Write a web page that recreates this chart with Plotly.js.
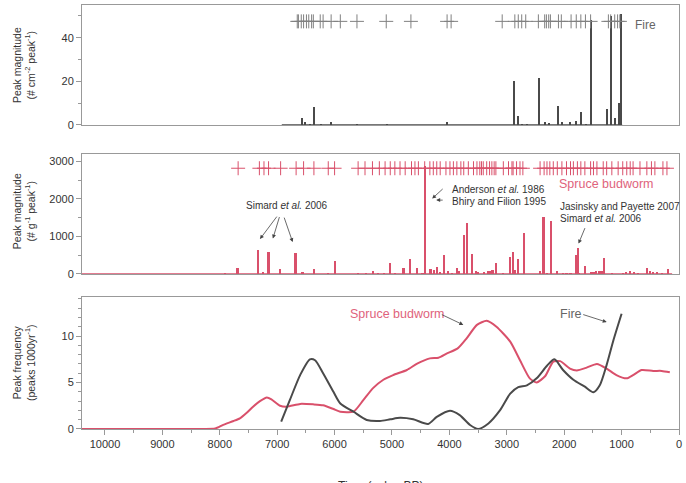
<!DOCTYPE html>
<html>
<head>
<meta charset="utf-8">
<script src="https://cdn.plot.ly/plotly-3.0.1.min.js"></script>
<style>html,body{margin:0;padding:0;background:#fff;}#chart{width:686px;height:483px;}</style>
</head>
<body>
<div id="chart"></div>
<script>
// ---- Fire (top panel) ----
const fireRecordSpan = [6920, 990];
const fireBarYears = [6570, 6520, 6430, 6360, 6240, 6060, 5610, 5090, 4040, 2880, 2810, 2740, 2650, 2440, 2330, 2270, 2110, 2040, 1900, 1790, 1710, 1620, 1530, 1250, 1190, 1120, 1050, 1010];
const fireBarMagnitude = [3.4, 1.5, 0.5, 8.2, 0.4, 1.2, 0.3, 0.3, 1.4, 20.1, 4.1, 0.6, 0.5, 21.5, 1.5, 0.8, 8.7, 1.5, 1.5, 2, 6, 0.5, 48, 7.5, 50, 3, 10, 51];
const fireEventYears = [6650, 6630, 6580, 6540, 6490, 6450, 6400, 6370, 6250, 6200, 6060, 5900, 5610, 5100, 4670, 4040, 3970, 3080, 2860, 2800, 2740, 2670, 2450, 2340, 2310, 2270, 2240, 2100, 2050, 1880, 1790, 1710, 1630, 1540, 1230, 1190, 1120, 1070, 1030];
const fireEventLevel = 47.5;

// ---- Spruce budworm (middle panel) ----
const budwormRecordSpan = [10400, 120];
const budwormBarYears = [7910, 7690, 7330, 7240, 7150, 6950, 6680, 6560, 6360, 6110, 5990, 5590, 5450, 5330, 5240, 5140, 5030, 4950, 4800, 4680, 4570, 4470, 4420, 4330, 4270, 4220, 4160, 4090, 4020, 3950, 3870, 3830, 3750, 3700, 3600, 3540, 3500, 3390, 3320, 3280, 3250, 3190, 3060, 2950, 2890, 2860, 2800, 2700, 2420, 2360, 2300, 2230, 2130, 2020, 1960, 1890, 1800, 1760, 1740, 1640, 1540, 1490, 1450, 1390, 1350, 1310, 1170, 980, 920, 850, 780, 710, 560, 500, 450, 390, 300, 190];
const budwormBarMagnitude = [20, 150, 640, 60, 580, 130, 550, 60, 125, 20, 340, 20, 20, 90, 30, 30, 290, 30, 160, 410, 160, 30, 2880, 130, 100, 180, 50, 500, 80, 30, 150, 80, 1040, 1350, 530, 80, 50, 50, 70, 90, 100, 285, 20, 460, 590, 100, 400, 1085, 80, 1530, 30, 1400, 90, 30, 30, 20, 500, 680, 30, 200, 60, 60, 70, 80, 90, 420, 20, 30, 50, 80, 50, 30, 160, 80, 50, 40, 30, 125];
const budwormEventYears = [7680, 7310, 7230, 7150, 6940, 6670, 6540, 6360, 6110, 6000, 5590, 5470, 5340, 5220, 5120, 5030, 4950, 4860, 4770, 4660, 4600, 4540, 4430, 4340, 4280, 4220, 4160, 4060, 3990, 3930, 3870, 3800, 3750, 3670, 3580, 3520, 3470, 3440, 3410, 3350, 3300, 3260, 3220, 3190, 3060, 2970, 2910, 2890, 2830, 2770, 2720, 2420, 2350, 2300, 2250, 2190, 2120, 2040, 1960, 1890, 1840, 1770, 1710, 1640, 1540, 1490, 1430, 1320, 1260, 1170, 1060, 980, 910, 850, 800, 680, 560, 480, 420, 280, 210];
const budwormEventLevel = 2820;

// ---- Peak frequency (bottom panel) ----
const budwormFreqYears = [10400, 8300, 8080, 7940, 7760, 7650, 7530, 7420, 7300, 7180, 7100, 6950, 6830, 6600, 6370, 6200, 6020, 5900, 5670, 5500, 5330, 5150, 4980, 4740, 4570, 4340, 4190, 4050, 3850, 3700, 3520, 3350, 3180, 2940, 2770, 2600, 2480, 2330, 2190, 2070, 1900, 1780, 1610, 1430, 1260, 1090, 910, 800, 650, 450, 300, 160];
const budwormFreq = [0, 0, 0.05, 0.45, 0.86, 1.15, 1.75, 2.4, 3.0, 3.4, 3.2, 2.5, 2.4, 2.7, 2.65, 2.55, 2.15, 1.86, 1.86, 3.1, 4.4, 5.3, 5.8, 6.35, 7.0, 7.6, 7.67, 8.1, 8.7, 9.75, 11.2, 11.65, 11.0, 9.4, 7.4, 5.45, 5.0, 5.7, 7.25, 7.3, 6.5, 6.3, 6.6, 7.0, 6.5, 5.8, 5.45, 5.8, 6.35, 6.25, 6.25, 6.1];
const fireFreqYears = [6930, 6780, 6600, 6430, 6340, 6200, 6020, 5900, 5670, 5440, 5210, 5030, 4860, 4630, 4370, 4220, 3990, 3820, 3640, 3500, 3320, 3120, 2940, 2800, 2650, 2480, 2300, 2170, 2020, 1840, 1640, 1490, 1380, 1260, 1140, 1000];
const fireFreq = [0.8, 3.1, 5.8, 7.5, 7.4, 6.0, 4.0, 2.75, 1.86, 0.97, 0.86, 1.04, 1.2, 1.04, 0.54, 1.3, 1.97, 1.5, 0.43, 0, 0.6, 2.0, 3.8, 4.5, 4.7, 5.45, 6.8, 7.5, 6.35, 5.3, 4.55, 3.95, 4.7, 6.9, 9.6, 12.4];

const PINK = '#d9506b';
const PINK_TEXT = '#e0637c';
const GRAY = '#4a4a4a';
const AXIS = '#999999';
const TXT = '#333333';
const FONT = 'Liberation Sans, Arial, Helvetica, sans-serif';

const traces = [
  // bottom panel
  {x: budwormFreqYears, y: budwormFreq, xaxis: 'x', yaxis: 'y', type: 'scatter', mode: 'lines',
   line: {color: PINK, width: 2, shape: 'spline', smoothing: 0.6}, hoverinfo: 'skip'},
  {x: fireFreqYears, y: fireFreq, xaxis: 'x', yaxis: 'y', type: 'scatter', mode: 'lines',
   line: {color: GRAY, width: 2, shape: 'spline', smoothing: 0.7}, hoverinfo: 'skip'},
  // middle panel
  {x: budwormRecordSpan, y: budwormRecordSpan.map(() => 0), xaxis: 'x2', yaxis: 'y2', type: 'scatter', mode: 'lines',
   line: {color: PINK, width: 1.5}, hoverinfo: 'skip'},
  {x: budwormBarYears, y: budwormBarMagnitude, xaxis: 'x2', yaxis: 'y2', type: 'bar', width: 38,
   marker: {color: PINK, line: {width: 0}}, hoverinfo: 'skip'},
  {x: budwormEventYears, y: budwormEventYears.map(() => budwormEventLevel), xaxis: 'x2', yaxis: 'y2', type: 'scatter', mode: 'markers',
   marker: {symbol: 'cross-thin', size: 10, color: PINK, line: {color: PINK, width: 1}}, hoverinfo: 'skip'},
  // top panel
  {x: fireRecordSpan, y: fireRecordSpan.map(() => 0), xaxis: 'x3', yaxis: 'y3', type: 'scatter', mode: 'lines',
   line: {color: GRAY, width: 1.5}, hoverinfo: 'skip'},
  {x: fireBarYears, y: fireBarMagnitude, xaxis: 'x3', yaxis: 'y3', type: 'bar', width: 40,
   marker: {color: GRAY, line: {width: 0}}, hoverinfo: 'skip'},
  {x: fireEventYears, y: fireEventYears.map(() => fireEventLevel), xaxis: 'x3', yaxis: 'y3', type: 'scatter', mode: 'markers',
   marker: {symbol: 'cross-thin', size: 10, color: '#808080', line: {color: '#808080', width: 1}}, hoverinfo: 'skip'}
];

const xRange = [10400, 0];
const baseX = {range: xRange, showline: true, mirror: true, linecolor: AXIS, linewidth: 1,
  showgrid: false, zeroline: false, fixedrange: true};
const baseY = {showline: true, mirror: true, linecolor: AXIS, linewidth: 1, showgrid: false, zeroline: false,
  ticks: 'outside', ticklen: 5, tickcolor: AXIS, tickfont: {size: 11, color: TXT, family: FONT}, fixedrange: true};

function yTitle(text, yPaper) {
  return {text: text, xref: 'paper', yref: 'paper', x: -0.097, y: yPaper, textangle: -90,
    showarrow: false, xanchor: 'center', yanchor: 'middle', align: 'center',
    font: {size: 10.5, color: TXT, family: FONT}};
}
function label(text, x, y, xr, yr, opts) {
  return Object.assign({text: text, x: x, y: y, xref: xr, yref: yr, showarrow: false,
    xanchor: 'left', yanchor: 'middle', font: {size: 10, color: TXT, family: FONT}}, opts || {});
}
function arrow(x, y, ax, ay, xr, yr) {
  return {text: '', x: x, y: y, xref: xr, yref: yr, ax: ax, ay: ay, showarrow: true,
    arrowhead: 2, arrowsize: 1, arrowwidth: 0.8, arrowcolor: '#444'};
}

const annotations = [
  yTitle('Peak magnitude<br>(# cm<sup>-2</sup> peak<sup>-1</sup>)', 0.8585),
  yTitle('Peak magnitude<br>(# g<sup>-1</sup> peak<sup>-1</sup>)', 0.514),
  yTitle('Peak frequency<br>(peaks 1000yr<sup>-1</sup>)', 0.1557),
  // top panel
  label('Fire', 800, 45.8, 'x3', 'y3', {font: {size: 12, color: '#666666', family: FONT}}),
  // middle panel
  label('Simard <i>et al.</i> 2006', 6830, 1821, 'x2', 'y2', {xanchor: 'center'}),
  arrow(7300, 930, 18, -24, 'x2', 'y2'),
  arrow(7075, 945, 7, -23, 'x2', 'y2'),
  arrow(6730, 850, -9, -26, 'x2', 'y2'),
  label('Anderson <i>et al.</i> 1986', 3990, 2240, 'x2', 'y2'),
  label('Bhiry and Filion 1995', 3990, 1928, 'x2', 'y2'),
  arrow(4300, 2010, 12, -11, 'x2', 'y2'),
  arrow(4230, 1970, 8, 0, 'x2', 'y2'),
  label('Spruce budworm', 2125, 2392, 'x2', 'y2', {font: {size: 12.5, color: PINK_TEXT, family: FONT}}),
  label('Jasinsky and Payette 2007', 2108, 1813, 'x2', 'y2'),
  label('Simard <i>et al.</i> 2006', 2108, 1493, 'x2', 'y2'),
  arrow(1750, 810, 7, -17, 'x2', 'y2'),
  // bottom panel
  label('Spruce budworm', 5766, 12.37, 'x', 'y', {font: {size: 12.5, color: PINK_TEXT, family: FONT}}),
  arrow(3757, 11.2, -23, -11, 'x', 'y'),
  label('Fire', 2108, 12.37, 'x', 'y', {font: {size: 12.5, color: '#666666', family: FONT}}),
  arrow(1259, 11.5, -25, -8, 'x', 'y'),
  // x-axis title (cut off at the bottom of the page, as in the source figure)
  {text: 'Time (cal yr BP)', xref: 'paper', yref: 'paper', x: 0.5, y: -0.113, xanchor: 'center', yanchor: 'top',
   showarrow: false, font: {size: 12, color: TXT, family: FONT}}
];

const layout = {
  width: 686, height: 483,
  margin: {l: 82, r: 7, t: 5, b: 54, pad: 0},
  paper_bgcolor: '#ffffff', plot_bgcolor: '#ffffff',
  showlegend: false, barmode: 'overlay', bargap: 0,
  font: {family: FONT, size: 11, color: TXT},
  xaxis: Object.assign({}, baseX, {anchor: 'y', domain: [0, 1], ticks: 'outside', ticklen: 5, tickcolor: AXIS,
    tick0: 0, dtick: 1000, tickformat: 'd', tickfont: {size: 11, color: TXT, family: FONT},
    minor: {ticks: 'outside', ticklen: 3, dtick: 500, tickcolor: AXIS}}),
  xaxis2: Object.assign({}, baseX, {anchor: 'y2', domain: [0, 1], showticklabels: false, ticks: ''}),
  xaxis3: Object.assign({}, baseX, {anchor: 'y3', domain: [0, 1], showticklabels: false, ticks: ''}),
  yaxis: Object.assign({}, baseY, {anchor: 'x', domain: [0, 0.3113], range: [0, 14.2], tick0: 0, dtick: 5,
    minor: {ticks: 'outside', ticklen: 3, dtick: 1, tickcolor: AXIS}}),
  yaxis2: Object.assign({}, baseY, {anchor: 'x2', domain: [0.3656, 0.6486], range: [0, 3200], tick0: 0, dtick: 1000,
    tickformat: 'd', minor: {ticks: 'outside', ticklen: 3, dtick: 500, tickcolor: AXIS}}),
  yaxis3: Object.assign({}, baseY, {anchor: 'x3', domain: [0.717, 1], range: [0, 55], tick0: 0, dtick: 20,
    minor: {ticks: 'outside', ticklen: 3, dtick: 10, tickcolor: AXIS}}),
  annotations: annotations
};

Plotly.newPlot('chart', traces, layout, {displayModeBar: false, staticPlot: true});
</script>
</body>
</html>
